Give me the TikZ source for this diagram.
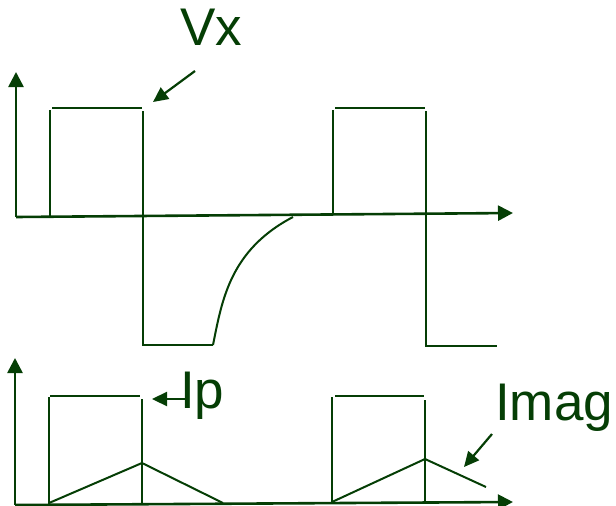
\documentclass[tikz,border=0pt]{standalone}
\usepackage{fontspec}
\setmainfont{Liberation Sans}
\usetikzlibrary{arrows.meta}
\definecolor{dg}{RGB}{5,62,5}
\begin{document}
\begin{tikzpicture}[x=1pt,y=-1pt,
  axis/.style={draw=dg,line width=2.6pt,-{Triangle[length=15pt,width=15pt]}},
  wave/.style={draw=dg,line width=2pt},
  pointer/.style={draw=dg,line width=2.2pt,-{Triangle[length=15pt,width=14pt]}},
  lbl/.style={text=dg,font=\fontsize{53}{53}\selectfont,inner sep=0pt,anchor=base west}]
\useasboundingbox (0,0) rectangle (616,506);
% ---- top plot ----
\coordinate (o1) at (16,217);
\coordinate (ytip1) at (16,72);
\coordinate (xtip1) at (513,213);
\draw[axis] (o1) -- (ytip1);
\draw[axis] (o1) -- (xtip1);
\coordinate (a1) at (50,217);
\coordinate (a2) at (50,110);
\coordinate (a3) at (52,108);
\coordinate (a4) at (142,108);
\coordinate (a5) at (143,111);
\coordinate (a6) at (143,345);
\coordinate (a7) at (213,345);
\coordinate (a8) at (293,217);
\draw[wave] (a1) -- (a2);
\draw[wave] (a3) -- (a4);
\draw[wave] (a5) -- (a6) -- (a7);
\draw[wave] (a7) .. controls (222,300) and (230,250) .. (a8);
\coordinate (b1) at (333,214);
\coordinate (b2) at (333,110);
\coordinate (b3) at (335,108);
\coordinate (b4) at (425,108);
\coordinate (b5) at (426,111);
\coordinate (b6) at (426,346);
\coordinate (b7) at (497,346);
\draw[wave] (b1) -- (b2);
\draw[wave] (b3) -- (b4);
\draw[wave] (b5) -- (b6) -- (b7);
\node[lbl] (vx) at (180,45) {Vx};
\coordinate (vxs) at (195,71);
\coordinate (vxe) at (153,102);
\draw[pointer] (vxs) -- (vxe);
% ---- bottom plot ----
\coordinate (o2) at (15,505);
\coordinate (ytip2) at (15,358);
\coordinate (xtip2) at (513,502);
\draw[axis] (o2) -- (ytip2);
\draw[axis] (o2) -- (xtip2);
\coordinate (c1) at (49,504);
\coordinate (c2) at (49,397);
\coordinate (c3) at (50,396);
\coordinate (c4) at (140,396);
\coordinate (c5) at (142,399);
\coordinate (c6) at (142,504);
\draw[wave] (c1) -- (c2);
\draw[wave] (c3) -- (c4);
\draw[wave] (c5) -- (c6);
\coordinate (t1) at (49,503);
\coordinate (t2) at (142,463);
\coordinate (t3) at (223,503);
\draw[wave] (t1) -- (t2) -- (t3);
\coordinate (d1) at (332,503);
\coordinate (d2) at (332,397);
\coordinate (d3) at (335,396);
\coordinate (d4) at (424,396);
\coordinate (d5) at (425,400);
\coordinate (d6) at (425,503);
\draw[wave] (d1) -- (d2);
\draw[wave] (d3) -- (d4);
\draw[wave] (d5) -- (d6);
\coordinate (u1) at (332,502);
\coordinate (u2) at (425,459);
\coordinate (u3) at (486,487);
\draw[wave] (u1) -- (u2) -- (u3);
\node[lbl] (ip) at (180,408) {Ip};
\coordinate (ips) at (185,399);
\coordinate (ipe) at (152,399);
\draw[pointer] (ips) -- (ipe);
\node[lbl] (imag) at (495,420) {Imag};
\coordinate (ims) at (492,434);
\coordinate (ime) at (464,467);
\draw[pointer] (ims) -- (ime);
\end{tikzpicture}
\end{document}
